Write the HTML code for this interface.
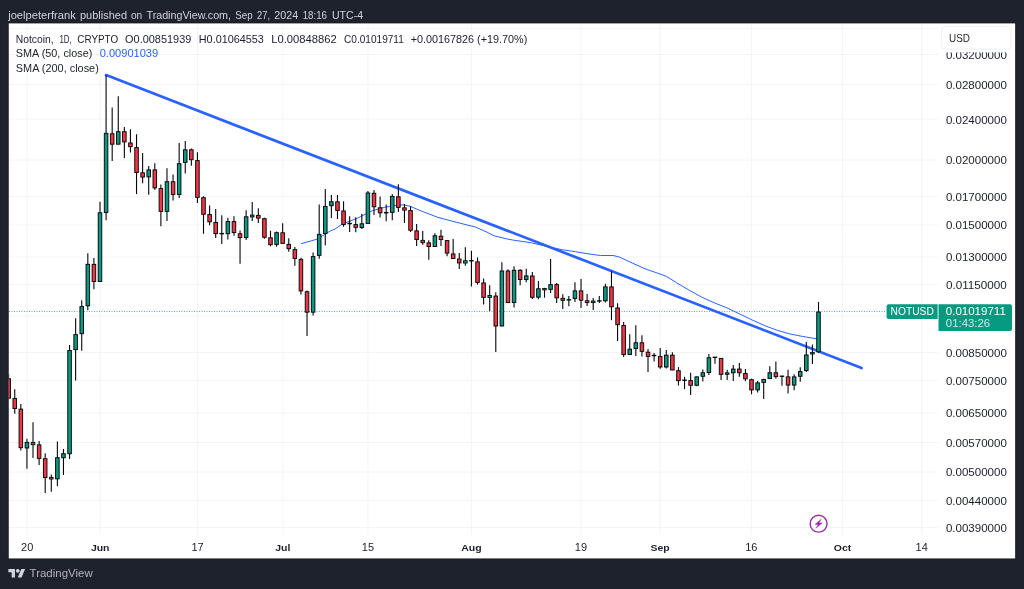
<!DOCTYPE html><html><head><meta charset="utf-8"><title>NOTUSD</title>
<style>html,body{margin:0;padding:0;background:#1e222d;}svg{display:block;will-change:transform}text{font-family:"Liberation Sans",sans-serif;}</style></head><body>
<svg width="1024" height="589" viewBox="0 0 1024 589">
<rect x="0" y="0" width="1024" height="589" fill="#1e222d"/>
<rect x="7.75" y="22.40" width="1008.40" height="537.05" fill="#181c26"/>
<rect x="8.75" y="23.40" width="1006.40" height="535.05" fill="#ffffff"/>
<g stroke="#f4f4f5" stroke-width="1" shape-rendering="auto">
<line x1="9.00" x2="937.80" y1="28.50" y2="28.50"/>
<line x1="9.00" x2="937.80" y1="54.50" y2="54.50"/>
<line x1="9.00" x2="937.80" y1="84.50" y2="84.50"/>
<line x1="9.00" x2="937.80" y1="119.00" y2="119.00"/>
<line x1="9.00" x2="937.80" y1="160.00" y2="160.00"/>
<line x1="9.00" x2="937.80" y1="196.50" y2="196.50"/>
<line x1="9.00" x2="937.80" y1="225.00" y2="225.00"/>
<line x1="9.00" x2="937.80" y1="257.00" y2="257.00"/>
<line x1="9.00" x2="937.80" y1="284.50" y2="284.50"/>
<line x1="9.00" x2="937.80" y1="316.00" y2="316.00"/>
<line x1="9.00" x2="937.80" y1="352.50" y2="352.50"/>
<line x1="9.00" x2="937.80" y1="380.50" y2="380.50"/>
<line x1="9.00" x2="937.80" y1="413.00" y2="413.00"/>
<line x1="9.00" x2="937.80" y1="442.50" y2="442.50"/>
<line x1="9.00" x2="937.80" y1="472.00" y2="472.00"/>
<line x1="9.00" x2="937.80" y1="500.50" y2="500.50"/>
<line x1="9.00" x2="937.80" y1="527.50" y2="527.50"/>
<line x1="27.18" x2="27.18" y1="24.00" y2="534.50"/>
<line x1="100.20" x2="100.20" y1="24.00" y2="534.50"/>
<line x1="197.56" x2="197.56" y1="24.00" y2="534.50"/>
<line x1="282.75" x2="282.75" y1="24.00" y2="534.50"/>
<line x1="367.94" x2="367.94" y1="24.00" y2="534.50"/>
<line x1="471.38" x2="471.38" y1="24.00" y2="534.50"/>
<line x1="580.91" x2="580.91" y1="24.00" y2="534.50"/>
<line x1="660.02" x2="660.02" y1="24.00" y2="534.50"/>
<line x1="751.30" x2="751.30" y1="24.00" y2="534.50"/>
<line x1="842.57" x2="842.57" y1="24.00" y2="534.50"/>
<line x1="921.68" x2="921.68" y1="24.00" y2="534.50"/>
</g>
<line x1="9.00" x2="886.00" y1="311.50" y2="311.50" stroke="#089981" stroke-width="1" stroke-dasharray="1 1.5" opacity="0.7"/>
<defs><clipPath id="plot"><rect x="8.75" y="23.40" width="929.05" height="511.10"/></clipPath></defs>
<g clip-path="url(#plot)">
<polyline fill="none" stroke="#2962ff" stroke-width="1" stroke-linejoin="round" points="301.0,243.6 310.0,241.2 317.9,238.9 330.5,230.8 335.1,229.0 343.1,223.6 358.0,218.0 360.3,216.7 372.8,210.5 385.4,207.1 397.9,205.2 404.2,204.9 410.5,206.4 418.8,210.0 423.1,211.7 437.7,217.3 456.5,222.3 475.4,227.0 487.9,232.6 494.2,235.8 506.8,238.9 512.6,240.0 531.4,242.8 550.3,247.3 562.8,249.8 575.4,251.7 587.9,253.8 600.5,255.5 613.1,255.5 619.3,257.0 632.6,263.2 645.1,268.8 657.7,273.2 666.5,276.4 676.5,282.7 689.1,290.2 701.7,297.1 714.2,302.8 726.8,307.8 739.3,313.8 752.6,320.2 765.1,325.8 777.7,330.5 790.3,334.0 802.8,336.5 818.3,339.0"/>
<line x1="106.1" y1="75.1" x2="861.6" y2="368.0" stroke="#2962ff" stroke-width="2.7" stroke-linecap="round"/>
<g stroke="#05060a" stroke-width="1.1"><line x1="8.66" x2="8.66" y1="374.30" y2="398.40"/><line x1="14.75" x2="14.75" y1="389.30" y2="413.80"/><line x1="20.84" x2="20.84" y1="404.00" y2="450.50"/><line x1="26.93" x2="26.93" y1="438.80" y2="468.70"/><line x1="33.02" x2="33.02" y1="422.30" y2="458.00"/><line x1="39.11" x2="39.11" y1="441.10" y2="464.90"/><line x1="45.20" x2="45.20" y1="453.30" y2="492.90"/><line x1="51.29" x2="51.29" y1="474.60" y2="491.70"/><line x1="57.38" x2="57.38" y1="441.40" y2="486.30"/><line x1="63.47" x2="63.47" y1="449.10" y2="474.90"/><line x1="69.56" x2="69.56" y1="344.90" y2="459.00"/><line x1="75.64" x2="75.64" y1="318.20" y2="380.50"/><line x1="81.73" x2="81.73" y1="300.30" y2="350.70"/><line x1="87.82" x2="87.82" y1="253.30" y2="310.20"/><line x1="93.91" x2="93.91" y1="258.05" y2="289.30"/><line x1="100.00" x2="100.00" y1="201.80" y2="281.70"/><line x1="106.09" x2="106.09" y1="75.10" y2="220.30"/><line x1="112.18" x2="112.18" y1="107.50" y2="161.00"/><line x1="118.27" x2="118.27" y1="96.20" y2="144.40"/><line x1="124.36" x2="124.36" y1="127.10" y2="158.00"/><line x1="130.44" x2="130.44" y1="129.30" y2="152.60"/><line x1="136.53" x2="136.53" y1="134.30" y2="194.00"/><line x1="142.62" x2="142.62" y1="153.10" y2="183.30"/><line x1="148.71" x2="148.71" y1="166.10" y2="194.70"/><line x1="154.80" x2="154.80" y1="163.20" y2="189.90"/><line x1="160.89" x2="160.89" y1="184.50" y2="226.20"/><line x1="166.98" x2="166.98" y1="168.20" y2="221.00"/><line x1="173.07" x2="173.07" y1="174.50" y2="200.40"/><line x1="179.16" x2="179.16" y1="143.10" y2="198.10"/><line x1="185.25" x2="185.25" y1="141.00" y2="173.50"/><line x1="191.34" x2="191.34" y1="148.50" y2="165.80"/><line x1="197.42" x2="197.42" y1="152.30" y2="202.90"/><line x1="203.51" x2="203.51" y1="196.30" y2="233.70"/><line x1="209.60" x2="209.60" y1="205.50" y2="225.30"/><line x1="215.69" x2="215.69" y1="209.10" y2="238.10"/><line x1="221.78" x2="221.78" y1="215.20" y2="244.10"/><line x1="227.87" x2="227.87" y1="217.70" y2="239.60"/><line x1="233.96" x2="233.96" y1="216.20" y2="235.80"/><line x1="240.05" x2="240.05" y1="230.60" y2="263.70"/><line x1="246.14" x2="246.14" y1="210.20" y2="240.00"/><line x1="252.23" x2="252.23" y1="202.00" y2="221.10"/><line x1="258.31" x2="258.31" y1="208.30" y2="223.00"/><line x1="264.40" x2="264.40" y1="217.70" y2="238.70"/><line x1="270.49" x2="270.49" y1="230.80" y2="246.20"/><line x1="276.58" x2="276.58" y1="231.40" y2="246.80"/><line x1="282.67" x2="282.67" y1="223.20" y2="243.60"/><line x1="288.76" x2="288.76" y1="238.30" y2="251.80"/><line x1="294.85" x2="294.85" y1="247.10" y2="265.80"/><line x1="300.94" x2="300.94" y1="257.80" y2="294.50"/><line x1="307.03" x2="307.03" y1="290.40" y2="335.90"/><line x1="313.12" x2="313.12" y1="252.50" y2="315.60"/><line x1="319.20" x2="319.20" y1="204.60" y2="258.70"/><line x1="325.29" x2="325.29" y1="189.10" y2="245.30"/><line x1="331.38" x2="331.38" y1="195.10" y2="218.00"/><line x1="337.47" x2="337.47" y1="194.90" y2="219.00"/><line x1="343.56" x2="343.56" y1="201.20" y2="226.80"/><line x1="349.65" x2="349.65" y1="216.20" y2="231.90"/><line x1="355.74" x2="355.74" y1="217.30" y2="232.30"/><line x1="361.83" x2="361.83" y1="213.70" y2="229.10"/><line x1="367.92" x2="367.92" y1="191.10" y2="223.70"/><line x1="374.00" x2="374.00" y1="190.10" y2="214.90"/><line x1="380.09" x2="380.09" y1="196.40" y2="217.40"/><line x1="386.18" x2="386.18" y1="204.50" y2="221.20"/><line x1="392.27" x2="392.27" y1="194.10" y2="220.30"/><line x1="398.36" x2="398.36" y1="184.20" y2="212.00"/><line x1="404.45" x2="404.45" y1="203.90" y2="223.00"/><line x1="410.54" x2="410.54" y1="206.20" y2="232.00"/><line x1="416.63" x2="416.63" y1="224.00" y2="246.10"/><line x1="422.72" x2="422.72" y1="231.00" y2="244.80"/><line x1="428.81" x2="428.81" y1="240.30" y2="259.70"/><line x1="434.90" x2="434.90" y1="233.30" y2="246.70"/><line x1="440.98" x2="440.98" y1="229.80" y2="246.10"/><line x1="447.07" x2="447.07" y1="240.20" y2="256.20"/><line x1="453.16" x2="453.16" y1="239.10" y2="258.70"/><line x1="459.25" x2="459.25" y1="253.00" y2="269.10"/><line x1="465.34" x2="465.34" y1="247.30" y2="265.80"/><line x1="471.43" x2="471.43" y1="250.80" y2="286.60"/><line x1="477.52" x2="477.52" y1="257.50" y2="284.70"/><line x1="483.61" x2="483.61" y1="278.50" y2="304.40"/><line x1="489.70" x2="489.70" y1="285.30" y2="311.10"/><line x1="495.79" x2="495.79" y1="292.20" y2="351.90"/><line x1="501.87" x2="501.87" y1="262.30" y2="326.20"/><line x1="507.96" x2="507.96" y1="269.30" y2="302.80"/><line x1="514.05" x2="514.05" y1="266.20" y2="307.40"/><line x1="520.14" x2="520.14" y1="269.20" y2="285.30"/><line x1="526.23" x2="526.23" y1="268.70" y2="282.30"/><line x1="532.32" x2="532.32" y1="272.00" y2="299.00"/><line x1="538.41" x2="538.41" y1="281.00" y2="299.20"/><line x1="544.50" x2="544.50" y1="287.80" y2="297.70"/><line x1="550.59" x2="550.59" y1="259.10" y2="293.10"/><line x1="556.67" x2="556.67" y1="283.10" y2="302.90"/><line x1="562.76" x2="562.76" y1="294.30" y2="309.00"/><line x1="568.85" x2="568.85" y1="295.90" y2="306.30"/><line x1="574.94" x2="574.94" y1="282.30" y2="302.10"/><line x1="581.03" x2="581.03" y1="278.90" y2="308.10"/><line x1="587.12" x2="587.12" y1="294.00" y2="305.90"/><line x1="593.21" x2="593.21" y1="298.00" y2="310.00"/><line x1="599.30" x2="599.30" y1="295.90" y2="303.10"/><line x1="605.39" x2="605.39" y1="283.70" y2="302.50"/><line x1="611.48" x2="611.48" y1="271.20" y2="320.20"/><line x1="617.57" x2="617.57" y1="303.30" y2="340.90"/><line x1="623.65" x2="623.65" y1="322.10" y2="356.90"/><line x1="629.74" x2="629.74" y1="334.30" y2="354.70"/><line x1="635.83" x2="635.83" y1="325.30" y2="356.00"/><line x1="641.92" x2="641.92" y1="335.20" y2="356.60"/><line x1="648.01" x2="648.01" y1="349.10" y2="372.10"/><line x1="654.10" x2="654.10" y1="352.90" y2="361.40"/><line x1="660.19" x2="660.19" y1="348.00" y2="368.80"/><line x1="666.28" x2="666.28" y1="349.90" y2="368.40"/><line x1="672.37" x2="672.37" y1="352.20" y2="370.20"/><line x1="678.46" x2="678.46" y1="367.10" y2="385.50"/><line x1="684.54" x2="684.54" y1="376.80" y2="389.10"/><line x1="690.63" x2="690.63" y1="372.80" y2="395.10"/><line x1="696.72" x2="696.72" y1="376.50" y2="386.30"/><line x1="702.81" x2="702.81" y1="369.50" y2="381.50"/><line x1="708.90" x2="708.90" y1="354.00" y2="375.00"/><line x1="714.99" x2="714.99" y1="357.10" y2="363.80"/><line x1="721.08" x2="721.08" y1="358.00" y2="380.00"/><line x1="727.17" x2="727.17" y1="369.70" y2="380.00"/><line x1="733.26" x2="733.26" y1="365.10" y2="380.90"/><line x1="739.35" x2="739.35" y1="363.00" y2="376.80"/><line x1="745.43" x2="745.43" y1="368.90" y2="381.30"/><line x1="751.52" x2="751.52" y1="378.70" y2="394.30"/><line x1="757.61" x2="757.61" y1="381.00" y2="392.40"/><line x1="763.70" x2="763.70" y1="378.70" y2="398.90"/><line x1="769.79" x2="769.79" y1="366.20" y2="378.80"/><line x1="775.88" x2="775.88" y1="361.40" y2="378.80"/><line x1="781.97" x2="781.97" y1="376.00" y2="385.70"/><line x1="788.06" x2="788.06" y1="369.70" y2="393.50"/><line x1="794.15" x2="794.15" y1="374.30" y2="390.30"/><line x1="800.24" x2="800.24" y1="367.20" y2="381.80"/><line x1="806.32" x2="806.32" y1="342.00" y2="372.10"/><line x1="812.41" x2="812.41" y1="344.50" y2="363.90"/><line x1="818.50" x2="818.50" y1="301.90" y2="352.90"/></g>
<g stroke="#05060a" stroke-width="0.95"><rect x="6.89" y="378.77" width="3.55" height="19.40" fill="#f23645" stroke-width="0.95"/><rect x="12.98" y="398.48" width="3.55" height="10.00" fill="#f23645" stroke-width="0.95"/><rect x="19.07" y="409.18" width="3.55" height="38.50" fill="#f23645" stroke-width="0.95"/><rect x="25.16" y="442.38" width="3.55" height="5.60" fill="#089981" stroke-width="0.95"/><rect x="31.20" y="442.52" width="3.65" height="2.20" fill="#f23645" stroke-width="0.85"/><rect x="37.34" y="444.88" width="3.55" height="13.50" fill="#f23645" stroke-width="0.95"/><rect x="43.42" y="458.68" width="3.55" height="18.90" fill="#f23645" stroke-width="0.95"/><rect x="49.46" y="477.32" width="3.65" height="1.70" fill="#f23645" stroke-width="0.85"/><rect x="55.60" y="457.68" width="3.55" height="21.20" fill="#089981" stroke-width="0.95"/><rect x="61.69" y="453.68" width="3.55" height="4.10" fill="#089981" stroke-width="0.95"/><rect x="67.78" y="350.48" width="3.55" height="103.30" fill="#089981" stroke-width="0.95"/><rect x="73.87" y="334.57" width="3.55" height="15.00" fill="#089981" stroke-width="0.95"/><rect x="79.96" y="306.57" width="3.55" height="27.10" fill="#089981" stroke-width="0.95"/><rect x="86.05" y="264.32" width="3.55" height="41.45" fill="#089981" stroke-width="0.95"/><rect x="92.14" y="264.38" width="3.55" height="17.10" fill="#f23645" stroke-width="0.95"/><rect x="98.22" y="212.82" width="3.55" height="68.65" fill="#089981" stroke-width="0.95"/><rect x="104.31" y="133.38" width="3.55" height="79.15" fill="#089981" stroke-width="0.95"/><rect x="110.40" y="133.78" width="3.55" height="10.40" fill="#f23645" stroke-width="0.95"/><rect x="116.49" y="131.68" width="3.55" height="12.50" fill="#089981" stroke-width="0.95"/><rect x="122.58" y="131.68" width="3.55" height="10.20" fill="#f23645" stroke-width="0.95"/><rect x="128.67" y="142.97" width="3.55" height="3.70" fill="#f23645" stroke-width="0.95"/><rect x="134.76" y="147.57" width="3.55" height="24.90" fill="#f23645" stroke-width="0.95"/><rect x="140.85" y="172.78" width="3.55" height="4.30" fill="#f23645" stroke-width="0.95"/><rect x="146.94" y="169.88" width="3.55" height="7.00" fill="#089981" stroke-width="0.95"/><rect x="153.03" y="169.88" width="3.55" height="18.00" fill="#f23645" stroke-width="0.95"/><rect x="159.11" y="188.57" width="3.55" height="22.80" fill="#f23645" stroke-width="0.95"/><rect x="165.20" y="181.68" width="3.55" height="29.70" fill="#089981" stroke-width="0.95"/><rect x="171.29" y="181.68" width="3.55" height="12.80" fill="#f23645" stroke-width="0.95"/><rect x="177.38" y="163.68" width="3.55" height="30.80" fill="#089981" stroke-width="0.95"/><rect x="183.47" y="149.78" width="3.55" height="12.60" fill="#089981" stroke-width="0.95"/><rect x="189.56" y="149.78" width="3.55" height="9.90" fill="#f23645" stroke-width="0.95"/><rect x="195.65" y="160.57" width="3.55" height="36.80" fill="#f23645" stroke-width="0.95"/><rect x="201.74" y="197.68" width="3.55" height="16.60" fill="#f23645" stroke-width="0.95"/><rect x="207.83" y="214.57" width="3.55" height="7.20" fill="#f23645" stroke-width="0.95"/><rect x="213.92" y="222.47" width="3.55" height="11.20" fill="#f23645" stroke-width="0.95"/><rect x="219.53" y="232.93" width="4.50" height="1.40" fill="#05060a" stroke="none"/><rect x="226.09" y="221.57" width="3.55" height="12.10" fill="#089981" stroke-width="0.95"/><rect x="232.18" y="221.57" width="3.55" height="11.00" fill="#f23645" stroke-width="0.95"/><rect x="238.27" y="233.78" width="3.55" height="3.80" fill="#f23645" stroke-width="0.95"/><rect x="244.36" y="216.78" width="3.55" height="20.80" fill="#089981" stroke-width="0.95"/><rect x="250.40" y="215.03" width="3.65" height="1.90" fill="#089981" stroke-width="0.85"/><rect x="256.54" y="215.38" width="3.55" height="2.70" fill="#f23645" stroke-width="0.95"/><rect x="262.63" y="218.68" width="3.55" height="18.60" fill="#f23645" stroke-width="0.95"/><rect x="268.72" y="237.78" width="3.55" height="6.90" fill="#f23645" stroke-width="0.95"/><rect x="274.81" y="232.68" width="3.55" height="11.70" fill="#089981" stroke-width="0.95"/><rect x="280.90" y="232.78" width="3.55" height="10.60" fill="#f23645" stroke-width="0.95"/><rect x="286.98" y="244.38" width="3.55" height="4.30" fill="#f23645" stroke-width="0.95"/><rect x="293.07" y="249.57" width="3.55" height="8.90" fill="#f23645" stroke-width="0.95"/><rect x="299.16" y="259.38" width="3.55" height="31.50" fill="#f23645" stroke-width="0.95"/><rect x="305.25" y="291.77" width="3.55" height="20.40" fill="#f23645" stroke-width="0.95"/><rect x="311.34" y="256.57" width="3.55" height="55.60" fill="#089981" stroke-width="0.95"/><rect x="317.43" y="234.38" width="3.55" height="21.00" fill="#089981" stroke-width="0.95"/><rect x="323.52" y="206.47" width="3.55" height="27.00" fill="#089981" stroke-width="0.95"/><rect x="329.61" y="201.78" width="3.55" height="3.90" fill="#089981" stroke-width="0.95"/><rect x="335.70" y="201.78" width="3.55" height="8.60" fill="#f23645" stroke-width="0.95"/><rect x="341.79" y="210.97" width="3.55" height="13.50" fill="#f23645" stroke-width="0.95"/><rect x="347.40" y="222.83" width="4.50" height="1.40" fill="#05060a" stroke="none"/><rect x="353.96" y="224.58" width="3.55" height="2.70" fill="#f23645" stroke-width="0.95"/><rect x="360.05" y="223.78" width="3.55" height="3.70" fill="#089981" stroke-width="0.95"/><rect x="366.14" y="192.97" width="3.55" height="30.50" fill="#089981" stroke-width="0.95"/><rect x="372.23" y="193.28" width="3.55" height="13.50" fill="#f23645" stroke-width="0.95"/><rect x="378.32" y="207.78" width="3.55" height="5.00" fill="#f23645" stroke-width="0.95"/><rect x="383.93" y="212.03" width="4.50" height="1.40" fill="#05060a" stroke="none"/><rect x="390.50" y="196.47" width="3.55" height="15.90" fill="#089981" stroke-width="0.95"/><rect x="396.59" y="196.78" width="3.55" height="10.60" fill="#f23645" stroke-width="0.95"/><rect x="402.63" y="207.83" width="3.65" height="2.30" fill="#f23645" stroke-width="0.85"/><rect x="408.76" y="210.57" width="3.55" height="19.70" fill="#f23645" stroke-width="0.95"/><rect x="414.85" y="230.88" width="3.55" height="8.60" fill="#f23645" stroke-width="0.95"/><rect x="420.89" y="240.33" width="3.65" height="2.40" fill="#f23645" stroke-width="0.85"/><rect x="427.03" y="242.88" width="3.55" height="3.60" fill="#f23645" stroke-width="0.95"/><rect x="433.12" y="235.78" width="3.55" height="10.70" fill="#089981" stroke-width="0.95"/><rect x="439.21" y="236.18" width="3.55" height="3.40" fill="#f23645" stroke-width="0.95"/><rect x="445.30" y="240.57" width="3.55" height="12.50" fill="#f23645" stroke-width="0.95"/><rect x="451.39" y="253.97" width="3.55" height="4.50" fill="#f23645" stroke-width="0.95"/><rect x="457.48" y="259.07" width="3.55" height="3.80" fill="#f23645" stroke-width="0.95"/><rect x="463.52" y="260.73" width="3.65" height="2.30" fill="#089981" stroke-width="0.85"/><rect x="469.18" y="260.03" width="4.50" height="1.40" fill="#05060a" stroke="none"/><rect x="475.74" y="261.88" width="3.55" height="20.60" fill="#f23645" stroke-width="0.95"/><rect x="481.83" y="282.98" width="3.55" height="14.40" fill="#f23645" stroke-width="0.95"/><rect x="487.87" y="295.43" width="3.65" height="2.10" fill="#089981" stroke-width="0.85"/><rect x="494.01" y="296.07" width="3.55" height="29.90" fill="#f23645" stroke-width="0.95"/><rect x="500.10" y="270.98" width="3.55" height="55.00" fill="#089981" stroke-width="0.95"/><rect x="506.19" y="270.98" width="3.55" height="31.60" fill="#f23645" stroke-width="0.95"/><rect x="512.28" y="270.27" width="3.55" height="32.20" fill="#089981" stroke-width="0.95"/><rect x="518.37" y="270.27" width="3.55" height="9.30" fill="#f23645" stroke-width="0.95"/><rect x="524.46" y="275.88" width="3.55" height="3.70" fill="#089981" stroke-width="0.95"/><rect x="530.54" y="275.98" width="3.55" height="21.30" fill="#f23645" stroke-width="0.95"/><rect x="536.63" y="288.77" width="3.55" height="8.40" fill="#089981" stroke-width="0.95"/><rect x="542.67" y="288.43" width="3.65" height="1.50" fill="#f23645" stroke-width="0.85"/><rect x="548.81" y="284.68" width="3.55" height="4.70" fill="#089981" stroke-width="0.95"/><rect x="554.90" y="284.57" width="3.55" height="13.20" fill="#f23645" stroke-width="0.95"/><rect x="560.94" y="298.32" width="3.65" height="2.00" fill="#f23645" stroke-width="0.85"/><rect x="566.60" y="299.13" width="4.50" height="1.40" fill="#05060a" stroke="none"/><rect x="573.17" y="290.88" width="3.55" height="7.60" fill="#089981" stroke-width="0.95"/><rect x="579.26" y="290.88" width="3.55" height="9.30" fill="#f23645" stroke-width="0.95"/><rect x="585.29" y="300.73" width="3.65" height="1.90" fill="#f23645" stroke-width="0.85"/><rect x="591.38" y="301.02" width="3.65" height="1.60" fill="#089981" stroke-width="0.85"/><rect x="597.05" y="300.22" width="4.50" height="1.40" fill="#05060a" stroke="none"/><rect x="603.61" y="286.88" width="3.55" height="13.90" fill="#089981" stroke-width="0.95"/><rect x="609.70" y="286.88" width="3.55" height="19.90" fill="#f23645" stroke-width="0.95"/><rect x="615.79" y="307.98" width="3.55" height="16.70" fill="#f23645" stroke-width="0.95"/><rect x="621.88" y="325.48" width="3.55" height="29.00" fill="#f23645" stroke-width="0.95"/><rect x="627.97" y="349.18" width="3.55" height="5.30" fill="#089981" stroke-width="0.95"/><rect x="634.06" y="342.77" width="3.55" height="5.80" fill="#089981" stroke-width="0.95"/><rect x="640.15" y="342.77" width="3.55" height="8.60" fill="#f23645" stroke-width="0.95"/><rect x="646.24" y="352.18" width="3.55" height="4.20" fill="#f23645" stroke-width="0.95"/><rect x="651.85" y="354.82" width="4.50" height="1.40" fill="#05060a" stroke="none"/><rect x="658.41" y="356.57" width="3.55" height="10.40" fill="#f23645" stroke-width="0.95"/><rect x="664.50" y="355.18" width="3.55" height="11.80" fill="#089981" stroke-width="0.95"/><rect x="670.59" y="355.18" width="3.55" height="14.80" fill="#f23645" stroke-width="0.95"/><rect x="676.68" y="370.68" width="3.55" height="10.00" fill="#f23645" stroke-width="0.95"/><rect x="682.29" y="379.53" width="4.50" height="1.40" fill="#05060a" stroke="none"/><rect x="688.86" y="380.57" width="3.55" height="4.70" fill="#f23645" stroke-width="0.95"/><rect x="694.95" y="376.88" width="3.55" height="8.40" fill="#089981" stroke-width="0.95"/><rect x="701.04" y="372.77" width="3.55" height="3.50" fill="#089981" stroke-width="0.95"/><rect x="707.13" y="357.77" width="3.55" height="14.70" fill="#089981" stroke-width="0.95"/><rect x="712.74" y="356.63" width="4.50" height="1.40" fill="#05060a" stroke="none"/><rect x="719.30" y="358.38" width="3.55" height="16.00" fill="#f23645" stroke-width="0.95"/><rect x="725.34" y="372.82" width="3.65" height="1.50" fill="#089981" stroke-width="0.85"/><rect x="731.48" y="369.07" width="3.55" height="3.70" fill="#089981" stroke-width="0.95"/><rect x="737.57" y="369.07" width="3.55" height="3.70" fill="#f23645" stroke-width="0.95"/><rect x="743.66" y="373.48" width="3.55" height="5.30" fill="#f23645" stroke-width="0.95"/><rect x="749.75" y="379.68" width="3.55" height="10.20" fill="#f23645" stroke-width="0.95"/><rect x="755.84" y="382.88" width="3.55" height="7.00" fill="#089981" stroke-width="0.95"/><rect x="761.93" y="379.48" width="3.55" height="2.90" fill="#089981" stroke-width="0.95"/><rect x="768.02" y="372.77" width="3.55" height="5.80" fill="#089981" stroke-width="0.95"/><rect x="774.10" y="372.77" width="3.55" height="3.80" fill="#f23645" stroke-width="0.95"/><rect x="779.72" y="375.53" width="4.50" height="1.40" fill="#05060a" stroke="none"/><rect x="786.28" y="376.88" width="3.55" height="8.20" fill="#f23645" stroke-width="0.95"/><rect x="792.37" y="376.88" width="3.55" height="8.20" fill="#089981" stroke-width="0.95"/><rect x="798.46" y="371.57" width="3.55" height="4.70" fill="#089981" stroke-width="0.95"/><rect x="804.55" y="354.98" width="3.55" height="15.60" fill="#089981" stroke-width="0.95"/><rect x="810.59" y="352.43" width="3.65" height="1.60" fill="#089981" stroke-width="0.85"/><rect x="816.73" y="312.07" width="3.55" height="39.70" fill="#089981" stroke-width="0.95"/></g>
</g>
<g transform="translate(818.6,523.7)" fill="none" stroke="#9c27b0"><circle r="8.45" stroke-width="1.4"/><path d="M2.7,-4.6 L-3.6,0.7 L-0.4,0.7 L-2.8,4.6 L3.6,-0.7 L0.4,-0.7 Z" fill="#9c27b0" stroke="#9c27b0" stroke-width="0.4" stroke-linejoin="round"/></g>
<text x="945.90" y="58.83" font-size="10.60" fill="#1b1f2a" textLength="61.00" lengthAdjust="spacingAndGlyphs">0.03200000</text>
<text x="945.90" y="88.85" font-size="10.60" fill="#1b1f2a" textLength="61.00" lengthAdjust="spacingAndGlyphs">0.02800000</text>
<text x="945.90" y="123.50" font-size="10.60" fill="#1b1f2a" textLength="61.00" lengthAdjust="spacingAndGlyphs">0.02400000</text>
<text x="945.90" y="164.49" font-size="10.60" fill="#1b1f2a" textLength="61.00" lengthAdjust="spacingAndGlyphs">0.02000000</text>
<text x="945.90" y="201.02" font-size="10.60" fill="#1b1f2a" textLength="61.00" lengthAdjust="spacingAndGlyphs">0.01700000</text>
<text x="945.90" y="229.16" font-size="10.60" fill="#1b1f2a" textLength="61.00" lengthAdjust="spacingAndGlyphs">0.01500000</text>
<text x="945.90" y="261.33" font-size="10.60" fill="#1b1f2a" textLength="61.00" lengthAdjust="spacingAndGlyphs">0.01300000</text>
<text x="945.90" y="288.89" font-size="10.60" fill="#1b1f2a" textLength="61.00" lengthAdjust="spacingAndGlyphs">0.01150000</text>
<text x="945.90" y="356.84" font-size="10.60" fill="#1b1f2a" textLength="61.00" lengthAdjust="spacingAndGlyphs">0.00850000</text>
<text x="945.90" y="384.98" font-size="10.60" fill="#1b1f2a" textLength="61.00" lengthAdjust="spacingAndGlyphs">0.00750000</text>
<text x="945.90" y="417.15" font-size="10.60" fill="#1b1f2a" textLength="61.00" lengthAdjust="spacingAndGlyphs">0.00650000</text>
<text x="945.90" y="446.67" font-size="10.60" fill="#1b1f2a" textLength="61.00" lengthAdjust="spacingAndGlyphs">0.00570000</text>
<text x="945.90" y="476.13" font-size="10.60" fill="#1b1f2a" textLength="61.00" lengthAdjust="spacingAndGlyphs">0.00500000</text>
<text x="945.90" y="504.86" font-size="10.60" fill="#1b1f2a" textLength="61.00" lengthAdjust="spacingAndGlyphs">0.00440000</text>
<text x="945.90" y="531.98" font-size="10.60" fill="#1b1f2a" textLength="61.00" lengthAdjust="spacingAndGlyphs">0.00390000</text>
<rect x="938.5" y="24" width="76" height="28.4" fill="#ffffff"/>
<rect x="941.6" y="26.6" width="69.5" height="22.4" rx="3.5" ry="3.5" fill="#ffffff" stroke="#eef0f4" stroke-width="1"/>
<text x="949.10" y="41.50" font-size="10.10" fill="#1b1f2a" textLength="20.90" lengthAdjust="spacingAndGlyphs">USD</text>
<text transform="translate(27.18,550.85) scale(1,0.940)" font-size="11.00" fill="#1b1f2a" text-anchor="middle">20</text>
<text transform="translate(100.20,550.85) scale(1,0.940)" font-size="10.50" fill="#1b1f2a" text-anchor="middle" font-weight="bold">Jun</text>
<text transform="translate(197.56,550.85) scale(1,0.940)" font-size="11.00" fill="#1b1f2a" text-anchor="middle">17</text>
<text transform="translate(282.75,550.85) scale(1,0.940)" font-size="10.50" fill="#1b1f2a" text-anchor="middle" font-weight="bold">Jul</text>
<text transform="translate(367.94,550.85) scale(1,0.940)" font-size="11.00" fill="#1b1f2a" text-anchor="middle">15</text>
<text transform="translate(471.38,550.85) scale(1,0.940)" font-size="10.50" fill="#1b1f2a" text-anchor="middle" font-weight="bold">Aug</text>
<text transform="translate(580.91,550.85) scale(1,0.940)" font-size="11.00" fill="#1b1f2a" text-anchor="middle">19</text>
<text transform="translate(660.02,550.85) scale(1,0.940)" font-size="10.50" fill="#1b1f2a" text-anchor="middle" font-weight="bold">Sep</text>
<text transform="translate(751.30,550.85) scale(1,0.940)" font-size="11.00" fill="#1b1f2a" text-anchor="middle">16</text>
<text transform="translate(842.57,550.85) scale(1,0.940)" font-size="10.50" fill="#1b1f2a" text-anchor="middle" font-weight="bold">Oct</text>
<text transform="translate(921.68,550.85) scale(1,0.940)" font-size="11.00" fill="#1b1f2a" text-anchor="middle">14</text>
<path d="M888.6,304.3 H937.6 V319.0 H888.6 a2,2 0 0 1 -2,-2 V306.3 a2,2 0 0 1 2,-2 Z" fill="#089981"/>
<path d="M938.5,304.3 H1010 a2,2 0 0 1 2,2 V329.0 a2,2 0 0 1 -2,2 H938.5 Z" fill="#089981"/>
<text x="890.60" y="315.20" font-size="10.30" fill="#ffffff" textLength="43.20" lengthAdjust="spacingAndGlyphs">NOTUSD</text>
<text x="945.80" y="315.20" font-size="10.40" fill="#ffffff" textLength="60.00" lengthAdjust="spacingAndGlyphs">0.01019711</text>
<text x="945.80" y="327.20" font-size="10.50" fill="#ffffff" textLength="44.40" lengthAdjust="spacingAndGlyphs" fill-opacity="0.8">01:43:26</text>
<text x="15.80" y="42.60" font-size="10.40" fill="#1b1f2a" textLength="37.80" lengthAdjust="spacingAndGlyphs">Notcoin,</text>
<text x="59.40" y="42.60" font-size="10.40" fill="#1b1f2a" textLength="12.40" lengthAdjust="spacingAndGlyphs">1D,</text>
<text x="77.30" y="42.60" font-size="10.40" fill="#1b1f2a" textLength="40.80" lengthAdjust="spacingAndGlyphs">CRYPTO</text>
<text x="125.10" y="42.60" font-size="10.40" fill="#1b1f2a" textLength="66.20" lengthAdjust="spacingAndGlyphs">O0.00851939</text>
<text x="198.80" y="42.60" font-size="10.40" fill="#1b1f2a" textLength="65.10" lengthAdjust="spacingAndGlyphs">H0.01064553</text>
<text x="271.20" y="42.60" font-size="10.40" fill="#1b1f2a" textLength="65.60" lengthAdjust="spacingAndGlyphs">L0.00848862</text>
<text x="344.10" y="42.60" font-size="10.40" fill="#1b1f2a" textLength="59.70" lengthAdjust="spacingAndGlyphs">C0.01019711</text>
<text x="410.70" y="42.60" font-size="10.40" fill="#1b1f2a" textLength="116.60" lengthAdjust="spacingAndGlyphs">+0.00167826 (+19.70%)</text>
<text x="15.80" y="57.00" font-size="10.40" fill="#1b1f2a" textLength="76.50" lengthAdjust="spacingAndGlyphs">SMA (50, close)</text>
<text x="99.70" y="57.00" font-size="10.40" fill="#2962ff" textLength="58.50" lengthAdjust="spacingAndGlyphs">0.00901039</text>
<text x="15.80" y="71.60" font-size="10.40" fill="#1b1f2a" textLength="83.00" lengthAdjust="spacingAndGlyphs">SMA (200, close)</text>
<text x="8.20" y="19.00" font-size="10.60" fill="#d1d4dc" textLength="67.60" lengthAdjust="spacingAndGlyphs">joelpeterfrank</text>
<text x="80.00" y="19.00" font-size="10.60" fill="#d1d4dc" textLength="47.00" lengthAdjust="spacingAndGlyphs">published</text>
<text x="130.90" y="19.00" font-size="10.60" fill="#d1d4dc" textLength="11.30" lengthAdjust="spacingAndGlyphs">on</text>
<text x="146.50" y="19.00" font-size="10.60" fill="#d1d4dc" textLength="84.50" lengthAdjust="spacingAndGlyphs">TradingView.com,</text>
<text x="235.30" y="19.00" font-size="10.60" fill="#d1d4dc" textLength="17.30" lengthAdjust="spacingAndGlyphs">Sep</text>
<text x="257.10" y="19.00" font-size="10.60" fill="#d1d4dc" textLength="12.90" lengthAdjust="spacingAndGlyphs">27,</text>
<text x="274.30" y="19.00" font-size="10.60" fill="#d1d4dc" textLength="23.90" lengthAdjust="spacingAndGlyphs">2024</text>
<text x="302.70" y="19.00" font-size="10.60" fill="#d1d4dc" textLength="24.30" lengthAdjust="spacingAndGlyphs">18:16</text>
<text x="332.00" y="19.00" font-size="10.60" fill="#d1d4dc" textLength="31.00" lengthAdjust="spacingAndGlyphs">UTC-4</text>
<g transform="translate(8.4,567.1) scale(0.47)" fill="#d1d4dc"><path d="M14 22H7V11H0V4h14v18zM28 22h-8l7.5-18h8L28 22z"/><circle cx="20" cy="8" r="4"/></g>
<text x="29.60" y="577.10" font-size="11.40" fill="#b2b5be" textLength="63.10" lengthAdjust="spacingAndGlyphs">TradingView</text>
</svg></body></html>
